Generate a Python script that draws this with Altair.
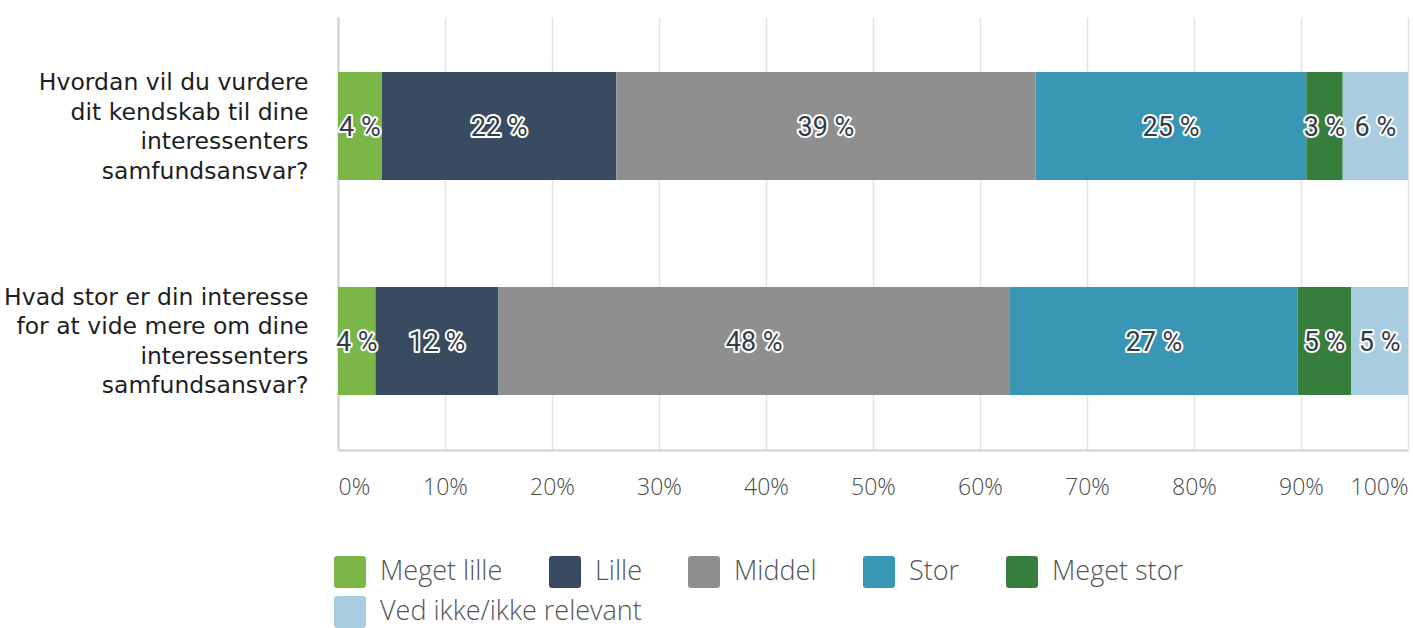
import altair as alt
import pandas as pd

questions = [
    "Hvordan vil du vurdere|dit kendskab til dine|interessenters|samfundsansvar?",
    "Hvad stor er din interesse|for at vide mere om dine|interessenters|samfundsansvar?",
]
categories = ["Meget lille", "Lille", "Middel", "Stor", "Meget stor", "Ved ikke/ikke relevant"]
colors = ["#7ab648", "#394b60", "#8f8f8f", "#3a96b5", "#377e3c", "#a9cde0"]
q1_values = [4.1, 21.9, 39.2, 25.3, 3.4, 6.1]
q2_values = [3.5, 11.5, 47.8, 26.9, 5.0, 5.3]
q1_labels = [4, 22, 39, 25, 3, 6]
q2_labels = [4, 12, 48, 27, 5, 5]
x_ticks = [0, 10, 20, 30, 40, 50, 60, 70, 80, 90, 100]

rows = []
for q, vals, labs in [(questions[0], q1_values, q1_labels), (questions[1], q2_values, q2_labels)]:
    for i, (c, v, l) in enumerate(zip(categories, vals, labs)):
        rows.append({"question": q, "category": c, "order": i, "value": v, "label": l})
df = pd.DataFrame(rows)

x_axis = alt.Axis(
    values=x_ticks, labelExpr="datum.value + '%'", title=None, ticks=False,
    grid=True, gridColor="#e4e4e4", gridWidth=1.5,
    domainColor="#cfcfcf", domainWidth=2,
    labelFont="Open Sans", labelFontWeight=300, labelFontSize=23, labelColor="#4a4a4a",
    labelPadding=26, labelFlush=True, labelFlushOffset=0,
)
y_axis = alt.Axis(
    title=None, ticks=False, domain=True, domainColor="#cfcfcf", domainWidth=2,
    labelExpr="split(datum.label, '|')", labelFont="DejaVu Sans", labelFontSize=23.5,
    labelColor="#1e1e1e", labelLineHeight=29.5, labelPadding=30, labelLimit=400,
    labelOffset=-43,
)
x_scale = alt.Scale(domain=[0, 100], nice=False)
y_scale = alt.Scale(paddingInner=0.498, paddingOuter=0.256)

rounded = "M -0.8 -1 H 0.8 Q 1 -1 1 -0.8 V 0.8 Q 1 1 0.8 1 H -0.8 Q -1 1 -1 0.8 V -0.8 Q -1 -1 -0.8 -1 Z"

base = alt.Chart(df).transform_stack(
    stack="value", groupby=["question"], as_=["x0", "x1"], sort=[alt.SortField("order")]
).transform_calculate(
    mid="(datum.x0 + datum.x1) / 2", txt="datum.label + ' %'"
)

y_enc = alt.Y("question:N", sort=questions, scale=y_scale, axis=y_axis)


def legend(lx, ly):
    return alt.Legend(
        orient="none", legendX=lx, legendY=ly, direction="horizontal",
        columns=5, symbolType=rounded, symbolSize=1024,
        symbolStrokeWidth=0, symbolOpacity=1, labelFontSize=27, labelFont="Open Sans",
        labelFontWeight=300, labelColor="#555555", labelOffset=14,
        columnPadding=46, rowPadding=8, title=None, padding=0, labelLimit=400,
    )


bars_main = base.transform_filter(
    alt.FieldOneOfPredicate(field="category", oneOf=categories[:5])
).mark_bar().encode(
    x=alt.X("x0:Q", scale=x_scale, axis=x_axis),
    x2="x1:Q",
    y=y_enc,
    color=alt.Color(
        "category:N",
        scale=alt.Scale(domain=categories[:5], range=colors[:5]),
        legend=legend(-4, 539),
    ),
)
bars_extra = base.transform_filter(
    alt.FieldOneOfPredicate(field="category", oneOf=categories[5:])
).mark_bar().encode(
    x=alt.X("x0:Q", scale=x_scale, axis=x_axis),
    x2="x1:Q",
    y=y_enc,
    fill=alt.Fill(
        "category:N",
        scale=alt.Scale(domain=categories[5:], range=colors[5:]),
        legend=legend(-4, 579),
    ),
)

outline = base.mark_text(
    font="Roboto", fontSize=27, fill="white", stroke="white",
    strokeWidth=4, strokeJoin="round", dy=2,
).encode(
    x=alt.X("mid:Q", scale=x_scale, axis=x_axis),
    y=y_enc,
    text="txt:N",
)
labels = base.mark_text(
    font="Roboto", fontSize=27, fill="#333d47", dy=2,
).encode(
    x=alt.X("mid:Q", scale=x_scale, axis=x_axis),
    y=y_enc,
    text="txt:N",
)

chart = alt.layer(bars_main, bars_extra, outline, labels).properties(
    width=1070, height=433,
    padding={"left": 338, "top": 17, "right": 5, "bottom": 178},
    autosize=alt.AutoSizeParams(type="none"),
).configure_view(stroke=None)

chart.save("out.html", embed_options={"renderer": "svg", "actions": False})
